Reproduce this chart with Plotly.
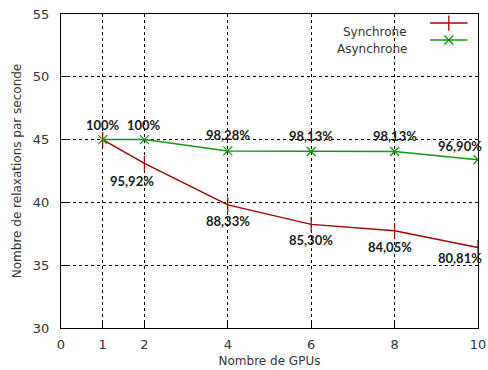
import plotly.graph_objects as go

# Number of GPUs
gpus = [1, 2, 4, 6, 8, 10]

# Relaxations per second
sync_vals = [45.0, 43.1, 39.8, 38.25, 37.75, 36.4]
async_vals = [45.0, 45.0, 44.1, 44.05, 44.05, 43.4]

# Efficiency labels
sync_pct = ["", "95,92%", "88,33%", "85,30%", "84,05%", "80,81%"]
async_pct = ["100%", "100%", "98,28%", "98,13%", "98,13%", "96,90%"]

x_ticks = [0, 1, 2, 4, 6, 8, 10]
y_ticks = [30, 35, 40, 45, 50, 55]

SYNC_COLOR = "#a30000"
ASYNC_COLOR = "#0e9a0e"
FONT = "DejaVu Sans, sans-serif"
LABEL_FONT = "Lato, DejaVu Sans, sans-serif"
TEXT_COLOR = "#333333"

fig = go.Figure()

fig.add_trace(go.Scatter(
    x=gpus, y=sync_vals, mode="lines+markers", name="Synchrone",
    line=dict(color=SYNC_COLOR, width=1.5),
    marker=dict(symbol="line-ns", size=11, line=dict(color=SYNC_COLOR, width=1.2)),
    showlegend=False,
))
fig.add_trace(go.Scatter(
    x=gpus, y=async_vals, mode="lines+markers", name="Asynchrone",
    line=dict(color=ASYNC_COLOR, width=1.5),
    marker=dict(symbol="x-thin", size=9, line=dict(color=ASYNC_COLOR, width=1.3)),
    showlegend=False,
))

# Percentage labels
annotations = []
async_offsets = [(0, 15), (0, 15), (0, 16), (0, 16), (0, 16), (-18, 14)]
sync_offsets = [(0, 0), (-12, -18), (0, -16), (0, -16), (-5, -16), (-18, -10)]
label_font = dict(family=LABEL_FONT, size=13, color="#1a1a1a", weight="bold")
for x, y, t, (dx, dy) in zip(gpus, async_vals, async_pct, async_offsets):
    if t:
        annotations.append(dict(x=x, y=y, text=t, showarrow=False, xshift=dx, yshift=dy, font=label_font))
for x, y, t, (dx, dy) in zip(gpus, sync_vals, sync_pct, sync_offsets):
    if t:
        annotations.append(dict(x=x, y=y, text=t, showarrow=False, xshift=dx, yshift=dy, font=label_font))

# Key in the upper right corner: label text, then a line sample with its marker
key = [("Synchrone", SYNC_COLOR, "line-ns", 11, 0.971), ("Asynchrone", ASYNC_COLOR, "x-thin", 9, 0.917)]
for name, color, sym, size, ky in key:
    annotations.append(dict(xref="paper", yref="paper", x=0.835, y=ky, xanchor="right",
                            text=name, showarrow=False,
                            font=dict(family=FONT, size=12, color=TEXT_COLOR)))
    fig.add_trace(go.Scatter(
        x=[0.885, 0.93, 0.975], y=[ky, ky, ky], xaxis="x2", yaxis="y2",
        mode="lines", line=dict(color=color, width=1.5), showlegend=False, hoverinfo="skip",
    ))
    fig.add_trace(go.Scatter(
        x=[0.93], y=[ky], xaxis="x2", yaxis="y2", mode="markers",
        marker=dict(symbol=sym, size=size, line=dict(color=color, width=1.3)),
        showlegend=False, hoverinfo="skip",
    ))

axis_common = dict(
    showline=True, linecolor="black", linewidth=1, mirror=True,
    ticks="inside", ticklen=6, tickcolor="black",
    showgrid=True, gridcolor="black", gridwidth=1, griddash="3px,3px",
    zeroline=False, automargin=False,
    tickfont=dict(family=FONT, size=13, color=TEXT_COLOR),
)

fig.update_layout(
    width=488, height=370,
    margin=dict(l=61, r=10, t=14, b=42),
    plot_bgcolor="white", paper_bgcolor="white",
    xaxis=dict(range=[0, 10], tickvals=x_ticks, ticktext=[str(v) for v in x_ticks],
               ticklabeloverflow="allow", ticklabelstandoff=4,
               title=dict(text="Nombre de GPUs", font=dict(family=FONT, size=12, color=TEXT_COLOR), standoff=6),
               **axis_common),
    yaxis=dict(range=[30, 55], tickvals=y_ticks, ticklabelstandoff=8,
               title=dict(text="Nombre de relaxations par seconde", font=dict(family=FONT, size=12, color=TEXT_COLOR), standoff=8),
               **axis_common),
    xaxis2=dict(range=[0, 1], overlaying="x", visible=False),
    yaxis2=dict(range=[0, 1], overlaying="y", visible=False),
    annotations=annotations,
)

fig.write_html("out.html")
